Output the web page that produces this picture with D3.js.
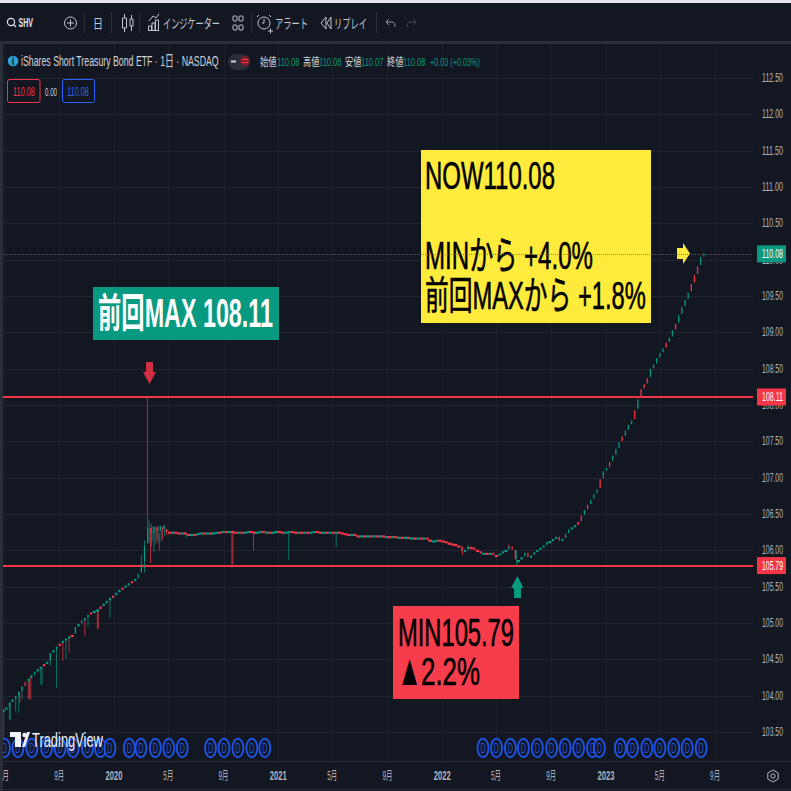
<!DOCTYPE html>
<html lang="ja"><head><meta charset="utf-8">
<script src="https://cdn.jsdelivr.net/npm/d3@7/dist/d3.min.js"></script>
<style>html,body{margin:0;padding:0;background:#131722;overflow:hidden}svg{display:block}text{font-family:"Liberation Sans","Noto Sans CJK JP",sans-serif}</style>
</head><body><svg id="c" width="791" height="791"></svg>
<script>
// ---------- data ----------
const closes=[103.80,103.83,103.90,103.94,103.99,104.05,104.12,104.18,104.23,104.27,
104.32,104.36,104.39,104.43,104.46,104.58,104.62,104.67,104.71,104.75,
104.78,104.81,104.83,104.94,104.98,105.03,105.06,105.11,105.14,105.16,
105.18,105.22,105.26,105.30,105.34,105.37,105.41,105.45,105.48,105.51,
105.54,105.57,105.60,105.67,105.80,106.05,106.30,106.22,106.32,106.25,106.33,106.28,
106.25,106.24,106.25,106.24,106.23,106.24,106.22,106.20,106.22,106.21,106.23,106.24,106.23,106.24,
106.23,106.24,106.25,106.24,106.26,106.25,106.26,106.25,106.24,106.25,106.24,106.25,106.26,106.25,
106.24,106.25,106.26,106.24,106.25,106.24,106.25,106.26,106.25,106.24,106.25,106.26,106.25,106.24,
106.25,106.24,106.25,106.24,106.25,106.26,106.25,106.24,106.25,106.24,106.25,106.24,106.25,106.24,
106.23,106.22,106.21,106.22,106.20,106.19,106.20,106.19,106.20,106.19,106.20,106.19,106.20,106.18,
106.19,106.18,106.19,106.17,106.18,106.17,106.18,106.16,106.17,106.16,106.17,106.16,106.17,106.14,
106.12,106.13,106.14,106.13,106.12,106.10,106.09,106.08,106.06,106.05,105.97,106.00,106.04,106.03,
106.00,105.98,105.95,105.96,105.95,105.96,105.93,105.92,105.95,105.98,106.00,106.05,106.00,105.85,
105.86,105.90,105.96,105.89,105.92,105.97,106.00,106.03,106.06,106.11,106.12,106.15,106.18,106.12,
106.15,106.22,106.28,106.31,106.34,106.38,106.47,106.55,106.62,106.69,106.77,106.83,106.97,107.08,
107.13,107.21,107.30,107.39,107.48,107.56,107.64,107.72,107.78,107.92,108.07,108.21,108.28,108.36,
108.49,108.55,108.64,108.71,108.77,108.85,108.92,109.02,109.11,109.23,109.34,109.44,109.54,109.66,
109.78,109.90,110.03,110.08];
const redWeeks=[7,13,18,22,28,31,35,38,41,183,184,186,190,193,197,201,203,204,205,211,214,219,220,221];
// long wicks: week position, low, high, direction
const wickWeek=[0,2,2.3,4,5,5.3,6,8,8.4,8.8,12,12.4,15,17,19,20,21,26,27,30,30.3,34,44,45,45.9,46,46.9,48,49.3,49.7,58.3,72.8,73.1,79.7,90.9,106,135.4,146.2,148,160.8,163.4,46.5,47.2,47.7,48.6,49,50.3,50.7,51.4,52];
const wickLow=[103.42,103.67,103.67,103.78,103.76,103.90,103.95,103.95,103.95,103.95,104.15,104.15,104.41,104.11,104.48,104.51,104.59,104.82,104.95,104.92,104.92,105.07,105.69,105.69,106.47,106.14,105.83,105.98,106.10,106.00,106.17,105.80,105.80,106.00,105.87,106.04,106.12,105.93,106.02,106.02,105.79,106.10,106.05,106.12,106.08,106.14,106.12,106.15,106.19,106.21];
const wickHigh=[103.80,103.90,103.90,103.99,104.05,104.05,104.12,104.23,104.23,104.27,104.39,104.39,104.58,104.67,104.75,104.78,104.81,105.06,105.11,105.18,105.18,105.34,105.94,106.14,108.11,106.47,106.24,106.28,106.34,106.24,106.23,106.24,106.24,106.24,106.25,106.25,106.17,106.05,106.07,106.08,106.00,106.40,106.36,106.33,106.32,106.31,106.33,106.31,106.35,106.29];
const wickDir=["u","u","u","u","u","d","u","d","d","d","u","u","u","u","d","u","d","d","u","d","d","u","u","u","d","u","d","u","u","d","u","d","d","d","u","u","d","d","u","d","u","u","d","u","d","d","u","d","u","d"];
const priceTicks=[103.5,104,104.5,105,105.5,106,106.5,107,107.5,108,108.5,109,109.5,110,110.5,111,111.5,112,112.5];
const timeTickDates=["2019-05-01","2019-09-01","2020-01-01","2020-05-01","2020-09-01","2021-01-01","2021-05-01","2021-09-01","2022-01-01","2022-05-01","2022-09-01","2023-01-01","2023-05-01","2023-09-01"];
const timeTickLabels=["5月","9月","2020","5月","9月","2021","5月","9月","2022","5月","9月","2023","5月","9月"];
const dividendDates=["2019-05-02","2019-06-01","2019-07-02","2019-08-04","2019-09-03","2019-10-02","2019-11-03","2019-12-02","2019-12-23","2020-02-04","2020-03-01","2020-04-02","2020-05-02","2020-06-01","2020-08-03","2020-09-02","2020-10-03","2020-11-03","2020-12-02","2022-04-02","2022-05-02","2022-06-02","2022-07-01","2022-08-01","2022-09-02","2022-10-02","2022-11-01","2022-12-02","2022-12-17","2023-02-02","2023-03-01","2023-04-02","2023-05-01","2023-06-01","2023-07-01","2023-08-01"];
const maxPrice=108.11,minPrice=105.79,nowPrice=110.08;
const ohlcLabels=["始値","高値","安値","終値"];
const ohlcValues=["110.08","110.08","110.07","110.08"];

// ---------- scales ----------
const GREEN="#089981",RED="#f23645",BG="#131722",GRID="#222632",AXT="#b2b5be";
const svg=d3.select("#c");
const x=d3.scaleUtc().domain([new Date("2020-01-01"),new Date("2023-01-01")]).range([114,606]);
const y=d3.scaleLinear().domain([112.5,103.5]).range([78,732]);
const weekStart=new Date("2019-04-29");
const weekDate=w=>new Date(+weekStart+w*7*864e5);
// text squeezed horizontally to the width it has in the picture
const T=(sel,px,py,s,size,fill,w,extra={})=>{
  const t=sel.append("text").attr("font-size",size).attr("fill",fill).text(s);
  Object.entries(extra).forEach(([k,v])=>t.attr(k,v));
  const len=t.node().getComputedTextLength();
  t.attr("transform",`translate(${px},${py}) scale(${w?w/len:1},1)`);
  return t;
};
// ---------- background & grid ----------
svg.append("rect").attr("width",791).attr("height",791).attr("fill",BG);
const chart=svg.append("g");
chart.selectAll("line.h").data(priceTicks).join("line").attr("x1",3).attr("x2",753)
 .attr("y1",d=>Math.round(y(d))+.5).attr("y2",d=>Math.round(y(d))+.5).attr("stroke",GRID);
chart.selectAll("line.v").data(timeTickDates).join("line")
 .attr("x1",d=>Math.round(x(new Date(d)))+.5).attr("x2",d=>Math.round(x(new Date(d)))+.5)
 .attr("y1",44).attr("y2",761).attr("stroke","#1c202b");

const nowY=Math.round(y(nowPrice))+.5;
// reference lines
chart.selectAll("line.ref").data([maxPrice,minPrice]).join("line").attr("x1",3).attr("x2",757)
 .attr("y1",d=>Math.round(y(d))).attr("y2",d=>Math.round(y(d))).attr("stroke",RED).attr("stroke-width",2);

// wicks
chart.selectAll("line.w").data(wickWeek).join("line")
 .attr("x1",d=>x(weekDate(d))).attr("x2",d=>x(weekDate(d)))
 .attr("y1",(d,i)=>y(wickHigh[i])).attr("y2",(d,i)=>y(wickLow[i]))
 .attr("stroke",(d,i)=>wickDir[i]=="u"?GREEN:RED).attr("stroke-width",1).attr("opacity",.7);
// candles
const cd=closes.map((c,i)=>({i,o:i?closes[i-1]:c,c,h:Math.abs(y(i?closes[i-1]:c)-y(c))}));
const bw=d=>d.h>3.2?1.3:(d.h>1.6?2.2:3.2);
chart.selectAll("rect.c").data(cd).join("rect")
 .attr("x",d=>x(weekDate(d.i))-bw(d)/2)
 .attr("width",bw)
 .attr("y",d=>Math.min(y(d.o),y(d.c))-.5)
 .attr("height",d=>Math.max(2.2,d.h*.85))
 .attr("fill",d=>(d.c<d.o||redWeeks.includes(d.i))?RED:GREEN);

// arrows
const arrow=(pts,f)=>chart.append("path").attr("d",d3.line()(pts)+"Z").attr("fill",f);
arrow([[146,362],[153,362],[153,372],[156,372],[149.5,384],[143,372],[146,372]],"#cf2f42");
arrow([[514,598],[521,598],[521,588],[523.5,588],[517.5,576],[511,588],[514,588]],GREEN);
arrow([[677,248],[683,248],[683,243],[690,253.5],[683,264],[683,259],[677,259]],"#ffeb3b");

// dividend markers (tall, squeezed rings)
const dv=chart.append("g");
dv.selectAll("ellipse").data(dividendDates).join("ellipse").attr("cx",d=>x(new Date(d))).attr("cy",748).attr("rx",5.5).attr("ry",9.2)
 .attr("fill",BG).attr("stroke","#1e53e5").attr("stroke-width",1.9);
dividendDates.forEach(d=>T(dv,x(new Date(d))-2.6,753,"D",14,"#1e53e5",5.2));

// TradingView logo
chart.append("path").attr("d","M10 732H21V747H15V737H10ZM22 747L27 732H30L25 747Z").attr("fill","#f0f3fa");
chart.append("circle").attr("cx",24.5).attr("cy",735).attr("r",2.2).attr("fill","#f0f3fa");
T(chart,32,746.5,"TradingView",20,"#f0f3fa",71);

// annotation boxes
const BOLD={stroke:"#000","stroke-width":.6};
svg.append("rect").attr("x",93).attr("y",287).attr("width",186).attr("height",53).attr("fill",GREEN);
T(svg,98,327,"前回MAX 108.11",40,"#fff",175,{"font-weight":"bold"});
svg.append("rect").attr("x",421).attr("y",150).attr("width",230).attr("height",173).attr("fill","#ffeb3b");
T(svg,425,189,"NOW110.08",39,"#000",130,BOLD);
T(svg,425,269,"MINから +4.0%",39,"#000",168,BOLD);
T(svg,425,309,"前回MAXから +1.8%",39,"#000",221,BOLD);
svg.append("rect").attr("x",393).attr("y",606).attr("width",126).attr("height",93).attr("fill","#f73c4c");
T(svg,398,646,"MIN105.79",39,"#000",116,BOLD);
T(svg,397,685,"▲",44,"#000",25);
T(svg,421,685,"2.2%",39,"#000",59,BOLD);

// dotted price line (over the boxes)
svg.append("line").attr("x1",3).attr("x2",757).attr("y1",nowY).attr("y2",nowY).attr("stroke",GREEN)
 .attr("stroke-width",1).attr("stroke-dasharray","1 1").attr("opacity",.8);

// axes
const ax=svg.append("g");
ax.append("rect").attr("x",753).attr("y",44).attr("width",38).attr("height",747).attr("fill",BG);
ax.append("rect").attr("x",0).attr("y",761).attr("width",791).attr("height",30).attr("fill",BG);
ax.append("line").attr("x1",0).attr("x2",791).attr("y1",761.5).attr("y2",761.5).attr("stroke","#2a2e39");
ax.append("line").attr("x1",0).attr("x2",791).attr("y1",789.5).attr("y2",789.5).attr("stroke","#2a2e39");
const pf=d3.format(".2f");
priceTicks.forEach(d=>T(ax,762,y(d)+4,pf(d),12,AXT,21));
[[nowPrice,GREEN],[maxPrice,RED],[minPrice,RED]].forEach(([v,c])=>{
 ax.append("rect").attr("x",757).attr("y",y(v)-8.5).attr("width",29).attr("height",17).attr("fill",c);
 T(ax,762,y(v)+4,pf(v),12,"#fff",21);
});
timeTickDates.forEach((d,i)=>{
 const l=timeTickLabels[i],w=l.length>3?17:10;
 T(ax,x(new Date(d))-w/2,779.5,l,12,AXT,w,l.length>3?{"font-weight":"bold"}:{});
});
// settings icon
const hex=d3.range(6).map(i=>[773+6*Math.sin(i*Math.PI/3),776+6*Math.cos(i*Math.PI/3)]);
ax.append("path").attr("d",d3.line()(hex)+"Z").attr("fill","none").attr("stroke",AXT);
ax.append("circle").attr("cx",773).attr("cy",776).attr("r",2.2).attr("fill","none").attr("stroke",AXT);

// chrome
const bar=svg.append("g");
bar.append("rect").attr("width",791).attr("height",41).attr("fill",BG);
bar.append("rect").attr("width",791).attr("height",3).attr("fill","#e6e7ea");
bar.append("rect").attr("y",41).attr("width",791).attr("height",3).attr("fill","#2a2e39");
bar.append("rect").attr("width",3).attr("y",41).attr("height",750).attr("fill","#2a2e39");
const IC="#c4c6cd";
bar.append("circle").attr("cx",11).attr("cy",22).attr("r",3.6).attr("fill","none").attr("stroke","#e0e3eb").attr("stroke-width",1.2);
bar.append("line").attr("x1",13.5).attr("y1",24.5).attr("x2",16).attr("y2",27).attr("stroke","#e0e3eb").attr("stroke-width",1.2);
T(bar,18.5,27,"SHV",12,"#e0e3eb",14.5,{"font-weight":"bold"});
bar.append("circle").attr("cx",70.5).attr("cy",23).attr("r",6).attr("fill","none").attr("stroke",IC);
bar.append("path").attr("d","M70.5 19.5V26.5M67 23H74").attr("stroke",IC);
[84.5,111.5,139.5,251.5,376.5].forEach(px=>bar.append("line").attr("x1",px).attr("x2",px).attr("y1",12).attr("y2",33).attr("stroke","#2a2e39"));
T(bar,93,28,"日",13,IC,10);
bar.append("path").attr("d","M122.5 18h4v10h-4zM124.5 14v4M124.5 28v4M130 19h3v7h-3zM131.5 15v4M131.5 26v5").attr("fill","none").attr("stroke",IC);
bar.append("path").attr("d","M148.5 30.5V26h3v4.5M152 30.5V23h3v7.5M155.5 30.5V20h3v10.5M148 30.5H159M149 21l4-5 3 2 3-4").attr("fill","none").attr("stroke",IC);
T(bar,163,28,"インジケーター",13,IC,57);
bar.append("g").selectAll("rect").data([[233,16],[239,16],[233,25],[239,25]]).join("rect").attr("x",d=>d[0]).attr("y",d=>d[1]).attr("width",4).attr("height",5).attr("rx",1).attr("fill","none").attr("stroke",IC);
bar.append("circle").attr("cx",264).attr("cy",23).attr("r",6).attr("fill","none").attr("stroke",IC);
bar.append("path").attr("d","M264 19v4h-2M259 15l-2 2M269 15l2 2M268 31h5M270.5 28.5v5").attr("fill","none").attr("stroke",IC);
T(bar,275,28,"アラート",13,IC,33);
bar.append("path").attr("d","M326 17l-5 6 5 6zM331 17l-4 6 4 6z").attr("fill","none").attr("stroke",IC);
T(bar,334,28,"リプレイ",13,IC,33);
bar.append("path").attr("d","M386 22l3-3M386 22l3 3M386 22h6c2 0 3 2 3 5").attr("fill","none").attr("stroke","#9598a1");
bar.append("path").attr("d","M416 22l-3-3M416 22l-3 3M416 22h-6c-2 0-3 2-3 5").attr("fill","none").attr("stroke","#434651");

// legend
const lg=svg.append("g");
lg.append("circle").attr("cx",13).attr("cy",61).attr("r",5.3).attr("fill","#2b9fd8");
T(lg,11.8,65,"i",10,"#131722",2.5,{"font-weight":"bold"});
T(lg,21,66,"iShares Short Treasury Bond ETF · 1日 · NASDAQ",15,"#d1d4dc",198);
lg.append("rect").attr("x",228).attr("y",54).attr("width",22).attr("height",16).attr("rx",8).attr("fill","#2a2e39");
lg.append("rect").attr("x",231).attr("y",60.5).attr("width",5).attr("height",2).attr("fill","#d1d4dc");
lg.append("circle").attr("cx",245).attr("cy",61).attr("r",5).attr("fill","#7a1f2b");
lg.append("path").attr("d","M242 59.5H248M242 62.5H248").attr("stroke",RED);
const lx=[260,303,345,387],vx=[277,319,361,403];
ohlcLabels.forEach((s,i)=>{T(lg,lx[i],65.5,s,11.5,"#d1d4dc",16.5);T(lg,vx[i],65.5,ohlcValues[i],11.5,GREEN,22.5);});
T(lg,430,65.5,"+0.03 (+0.03%)",11.5,GREEN,50);
lg.append("rect").attr("x",7.5).attr("y",79.5).attr("width",32.5).attr("height",23).attr("rx",2).attr("fill","none").attr("stroke",RED);
T(lg,13,95.5,pf(nowPrice),12,RED,22);
T(lg,45,95.5,"0.00",11,"#d1d4dc",12);
lg.append("rect").attr("x",62.5).attr("y",79.5).attr("width",32).attr("height",23).attr("rx",2).attr("fill","none").attr("stroke","#2962ff");
T(lg,67,95.5,pf(nowPrice),12,"#2962ff",22);
</script></body></html>
